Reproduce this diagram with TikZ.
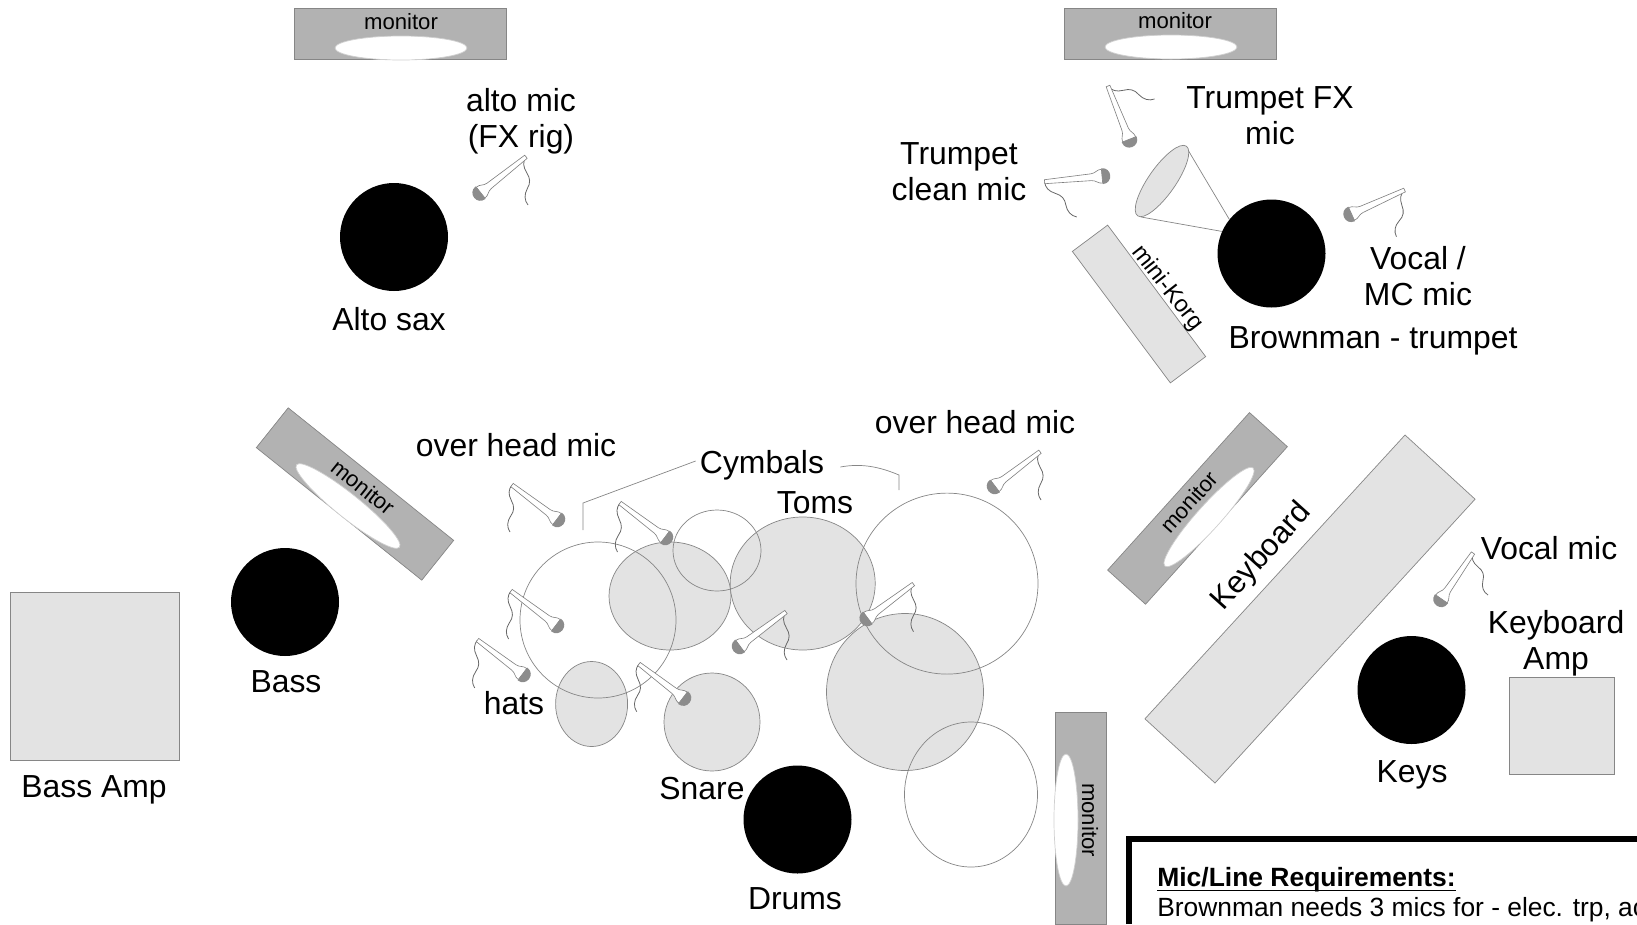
\documentclass[tikz,border=0pt]{standalone}
\usepackage{fontspec}
\setmainfont{Liberation Sans}
\usetikzlibrary{shapes.geometric}
\definecolor{lightgear}{HTML}{E3E3E3}
\definecolor{monitorgray}{HTML}{B2B2B2}
\definecolor{edgegray}{HTML}{868686}
\newcommand{\px}[1]{#1*0.02cm}
\tikzset{
	label/.style={font=\fontsize{18.15}{20.4}\selectfont, align=center, inner sep=0pt},
	small/.style={font=\fontsize{12.6}{14}\selectfont, inner sep=0pt},
	monitor/.style={rectangle, draw=edgegray, fill=monitorgray, minimum width=\px{212}, minimum height=\px{51}, inner sep=0pt},
	cone/.style={ellipse, draw=edgegray!40, fill=white, minimum width=\px{132}, minimum height=\px{24}, inner sep=0pt},
	gear/.style={rectangle, draw=edgegray, fill=lightgear, inner sep=0pt},
	player/.style={circle, fill=black, minimum size=\px{108}, inner sep=0pt},
	drum/.style={ellipse, draw=edgegray, fill=lightgear, inner sep=0pt},
	cymbal/.style={ellipse, draw=edgegray, inner sep=0pt},
	wire/.style={draw=black!60, line width=0.45pt},
}
\begin{document}
\begin{tikzpicture}[x=0.02cm, y=-0.02cm]
\useasboundingbox (0,0) rectangle (1637,924);

% monitors
\node[monitor] (mona) at (400.5,33.5) {};
\node[cone] (conea) at (401,48) {};
\node[small] (texta) at (401,22) {monitor};

\node[monitor] (monb) at (1170,33.5) {};
\node[cone] (coneb) at (1171,47) {};
\node[small] (textb) at (1175,21) {monitor};

\node[monitor, rotate=-38.7] (monc) at (355,494) {};
\node[cone, rotate=-38.7] (conec) at (348,506) {};
\node[small, rotate=-38.7] (textc) at (363,487) {monitor};

\node[monitor, rotate=48] (mond) at (1197.5,508.4) {};
\node[cone, rotate=48] (coned) at (1209,517) {};
\node[small, rotate=48] (textd) at (1189,502) {monitor};

\node[monitor, rotate=-90] (mone) at (1080.5,818) {};
\node[cone, rotate=-90] (conee) at (1066,820) {};
\node[small, rotate=-90] (texte) at (1090,820) {monitor};

% amps and keys
\node[gear, minimum width=\px{169}, minimum height=\px{168}] (bassamp) at (94.5,676) {};
\node[gear, minimum width=\px{105}, minimum height=\px{97}] (keyamp) at (1561.5,726) {};
\node[gear, minimum width=\px{385}, minimum height=\px{95}, rotate=47.5] (keyboard) at (1310,609) {};
\node[gear, minimum width=\px{164}, minimum height=\px{44}, rotate=-53.3] (korg) at (1139,304) {};
\node[small, font=\fontsize{13.4}{15}\selectfont, rotate=-52] (korgtext) at (1167,288) {mini-Korg};
\node[label, font=\fontsize{17.6}{20}\selectfont, rotate=48] (keytext) at (1262,557) {Keyboard};

% drums
\node[drum, minimum width=\px{122}, minimum height=\px{108}] (tomleft) at (670,596) {};
\node[drum, minimum width=\px{145}, minimum height=\px{133}] (tommid) at (802.7,583.5) {};
\node[drum, minimum width=\px{157}, minimum height=\px{157}] (tomfloor) at (905,692) {};
\node[drum, minimum width=\px{72}, minimum height=\px{85}] (hatsdrum) at (591.6,704) {};
\node[drum, minimum width=\px{96}, minimum height=\px{98}] (snaredrum) at (712,722) {};

\node[cymbal, minimum width=\px{156}, minimum height=\px{156}] (cymleft) at (598,620) {};
\node[cymbal, minimum width=\px{88}, minimum height=\px{81}] (cymsmall) at (717,550.5) {};
\node[cymbal, minimum width=\px{182}, minimum height=\px{181}] (cymright) at (947,583.6) {};
\node[cymbal, minimum width=\px{133}, minimum height=\px{145}] (cymlow) at (971,794.5) {};

% players
\node[player] (alto) at (394,237) {};
\node[player] (brown) at (1271.5,253.5) {};
\node[player] (bass) at (285,602) {};
\node[player] (keys) at (1411.5,690) {};
\node[player] (drums) at (797.5,819.5) {};

% trumpet cone
\coordinate (hornt) at (1188,150);
\coordinate (hornb) at (1141,217);
\draw[edgegray] (hornt) -- (brown.141);
\draw[edgegray] (hornb) -- (brown.156);
\node[ellipse, draw=edgegray, fill=lightgear, minimum width=\px{85}, minimum height=\px{27}, inner sep=0pt, rotate=55] (horn) at (1162,181) {};

% mics
\foreach \hx/\hy/\tx/\ty/\ex/\ey in {
	561/522/512/485/510/532, 669/540/620/503/617.5/552, 560/628/511/591/508.6/639,
	526.5/677/477.5/640/474.7/688, 687/700.7/639/664/636.7/711.7, 736/649/786/612/787/660,
	863.7/621/913.5/584/913.5/631.7, 991/489/1040/451.7/1041/500, 476.7/195.7/526/156.7/528/205,
	1131/144/1108/86/1154.6/99, 1107/175.7/1044.6/181.7/1076.8/217, 1347/216/1404.6/190/1396.4/236.7,
	1438.6/603/1473/553/1488/595}
{
	\pgfmathsetmacro\ang{atan2(\hy-\ty,\tx-\hx)}
	\pgfmathsetmacro\len{veclen(\tx-\hx,\ty-\hy)}
	\pgfmathsetmacro\wang{atan2(\ty-\ey,\ex-\tx)}
	\pgfmathsetmacro\wlen{veclen(\ex-\tx,\ey-\ty)}
	\begin{scope}[shift={(\tx,\ty)}, rotate=\wang]
		\draw[wire] (0,0) .. controls (0.1*\wlen,3.5) and (0.2*\wlen,3.5) .. (0.33*\wlen,0)
			.. controls (0.45*\wlen,-3.5) and (0.55*\wlen,-3.5) .. (0.66*\wlen,0)
			.. controls (0.78*\wlen,3.5) and (0.9*\wlen,3.5) .. (\wlen,0);
	\end{scope}
	\begin{scope}[shift={(\hx,\hy)}, rotate=\ang]
		\draw[draw=black!50, fill=white, line width=0.35pt] (5,-7) .. controls (10,-7) and (11,-3.6) .. (16,-3.4)
			-- (\len,-2) -- (\len,2) -- (16,3.4) .. controls (11,3.6) and (10,7) .. (5,7) -- cycle;
		\fill[black!45] (5,-8) .. controls (-6,-8) and (-6,8) .. (5,8) -- cycle;
	\end{scope}
}

% callout lines for the cymbals
\node[label] (cymbals) at (762,465) {Cymbals};
\coordinate (cymla) at (583,530);
\coordinate (cymlb) at (583,503);
\coordinate (cymra) at (899,490);
\coordinate (cymrb) at (899,475);
\draw[edgegray] (cymla) -- (cymlb) -- ([xshift=\px{-4},yshift=\px{4}]cymbals.west);
\draw[edgegray] ([xshift=\px{16},yshift=\px{-2}]cymbals.east) .. controls (862,463) and (880,467) .. (cymrb) -- (cymra);

% labels
\node[label] (altomic) at (521,121) {alto mic\\(FX rig)};
\node[label] (altosax) at (389,319) {Alto sax};
\node[label] (fxmic) at (1270,116) {Trumpet FX\\mic};
\node[label] (cleanmic) at (959,172) {Trumpet\\clean mic};
\node[label] (vocalmc) at (1418,276) {Vocal /\\MC mic};
\node[label] (brownman) at (1373,341) {Brownman - trumpet};
\node[label] (overl) at (516,445) {over head mic};
\node[label] (overr) at (975,422) {over head mic};
\node[label] (toms) at (815,503) {Toms};
\node[label] (basstext) at (286,682) {Bass};
\node[label] (bassamptext) at (94,790) {Bass Amp};
\node[label] (hats) at (514,703) {hats};
\node[label] (snare) at (702,789) {Snare};
\node[label] (drumstext) at (795,899) {Drums};
\node[label] (keystext) at (1412,774.5) {Keys};
\node[label] (keyamptext) at (1556,643) {Keyboard\\Amp};
\node[label] (vocalmic) at (1549,548) {Vocal mic};

% requirements box, runs off the page
\coordinate (reqa) at (1129,924);
\coordinate (reqb) at (1129,839);
\coordinate (reqc) at (1637,839);
\draw[line width=\px{5.5}] (reqa) -- (reqb) -- (reqc);
\node[anchor=base west, inner sep=0pt, font=\fontsize{15.05}{17}\selectfont\bfseries] (reqtitle) at (1157,886) {\underline{\smash{Mic/Line Requirements:}\rule[-1pt]{0pt}{0pt}}};
\node[anchor=base west, inner sep=0pt, font=\fontsize{15}{17}\selectfont] (reqline) at (1157,916) {Brownman needs 3 mics for - elec. trp, ac};

\end{tikzpicture}
\end{document}
